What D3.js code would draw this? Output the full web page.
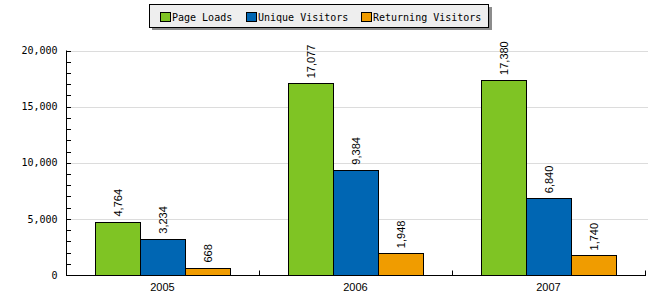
<!DOCTYPE html>
<html>
<head>
<meta charset="utf-8">
<script src="https://cdn.jsdelivr.net/npm/d3@7"></script>
<style>
  body { margin: 0; background: #fff; }
  svg { display: block; }
</style>
</head>
<body>
<div id="container"></div>
<script>
const years = ['2005', '2006', '2007']
const seriesNames = ['Page Loads', 'Unique Visitors', 'Returning Visitors']
const pageLoads = [4764, 17077, 17380]
const uniqueVisitors = [3234, 9384, 6840]
const returningVisitors = [668, 1948, 1740]
const yTicks = [0, 5000, 10000, 15000, 20000]
const colors = ['#7fc424', '#0066b3', '#f09c00']

const series = [pageLoads, uniqueVisitors, returningVisitors]
const width = 650, height = 300
const monoFont = '"DejaVu Sans Mono", monospace'
const sansFont = '"Liberation Sans", Arial, sans-serif'

const svg = d3.select('#container').append('svg')
  .attr('width', width).attr('height', height)

const x = d3.scaleBand().domain(years).range([66, 645])
const y = d3.scaleLinear().domain([0, 20000]).range([275, 50.5])
const xInner = d3.scaleBand().domain(seriesNames).range([0, 135])
const groupPad = (x.bandwidth() - 135) / 2

// gridlines
svg.append('g')
  .selectAll('line')
  .data(yTicks.slice(1))
  .enter().append('line')
  .attr('x1', 66).attr('x2', 648)
  .attr('y1', d => Math.round(y(d)) + 0.5)
  .attr('y2', d => Math.round(y(d)) + 0.5)
  .style('stroke', '#dcdcdc')

// bars
series.forEach(function (vals, s) {
  svg.append('g')
    .selectAll('rect')
    .data(vals)
    .enter().append('rect')
    .attr('x', (d, i) => Math.round(x(years[i]) + groupPad + xInner(seriesNames[s])) + 0.5)
    .attr('y', d => Math.round(y(d)) + 0.5)
    .attr('width', xInner.bandwidth())
    .attr('height', d => Math.round(y(0)) - Math.round(y(d)))
    .style('fill', colors[s])
    .style('stroke', '#000')
    .style('stroke-width', 1)

  svg.append('g')
    .selectAll('text')
    .data(vals)
    .enter().append('text')
    .attr('transform', (d, i) => {
      const cx = x(years[i]) + groupPad + xInner(seriesNames[s]) + xInner.bandwidth() / 2 + 4
      return 'translate(' + cx + ',' + (y(d) - 5) + ') rotate(-90)'
    })
    .style('font-family', sansFont)
    .style('font-size', '11px')
    .style('fill', '#000')
    .text(d => d3.format(',')(d))
})

// y axis
const yAxis = d3.axisLeft(y)
  .tickValues(yTicks)
  .tickFormat(d3.format(','))
  .tickSize(0)
  .tickPadding(9)
const gy = svg.append('g').attr('transform', 'translate(66.5,0)').call(yAxis)
gy.select('.domain').attr('d', 'M0,' + y(20000) + 'V' + (y(0) + 0.5)).style('stroke', '#000')
gy.selectAll('text').style('font-family', monoFont).style('font-size', '10px').style('fill', '#000')

// minor ticks on the y axis
svg.append('g')
  .selectAll('line')
  .data(d3.range(1000, 20001, 1000))
  .enter().append('line')
  .attr('x1', 66).attr('x2', 71)
  .attr('y1', d => Math.round(y(d)) + 0.5)
  .attr('y2', d => Math.round(y(d)) + 0.5)
  .style('stroke', '#000')

// x axis
const gx = svg.append('g').attr('transform', 'translate(0,' + (Math.round(y(0)) + 0.5) + ')')
gx.append('line').attr('x1', 66).attr('x2', 646).style('stroke', '#000')
gx.selectAll('.sep')
  .data(years)
  .enter().append('line')
  .attr('class', 'sep')
  .attr('x1', d => Math.round(x(d) + x.bandwidth()) + 0.5)
  .attr('x2', d => Math.round(x(d) + x.bandwidth()) + 0.5)
  .attr('y1', 0).attr('y2', -5)
  .style('stroke', '#000')
gx.selectAll('.lbl')
  .data(years)
  .enter().append('text')
  .attr('class', 'lbl')
  .attr('x', d => x(d) + x.bandwidth() / 2)
  .attr('y', 15)
  .attr('text-anchor', 'middle')
  .style('font-family', sansFont)
  .style('font-size', '11px')
  .text(d => d)

// legend
const legend = svg.append('g')
legend.append('rect')
  .attr('x', 152).attr('y', 7).attr('width', 340).attr('height', 23)
  .style('fill', '#8c8c8c')
legend.append('rect')
  .attr('x', 149.5).attr('y', 4.5).attr('width', 339).attr('height', 23)
  .style('fill', '#eeeeee').style('stroke', '#000')
const legendX = [160, 246, 361]
seriesNames.forEach(function (name, s) {
  legend.append('rect')
    .attr('x', legendX[s] + 0.5).attr('y', 12.5).attr('width', 10).attr('height', 9)
    .style('fill', colors[s]).style('stroke', '#000')
  legend.append('text')
    .attr('x', legendX[s] + 12).attr('y', 20.5)
    .style('font-family', monoFont)
    .style('font-size', '10px')
    .text(name)
})
</script>
</body>
</html>
